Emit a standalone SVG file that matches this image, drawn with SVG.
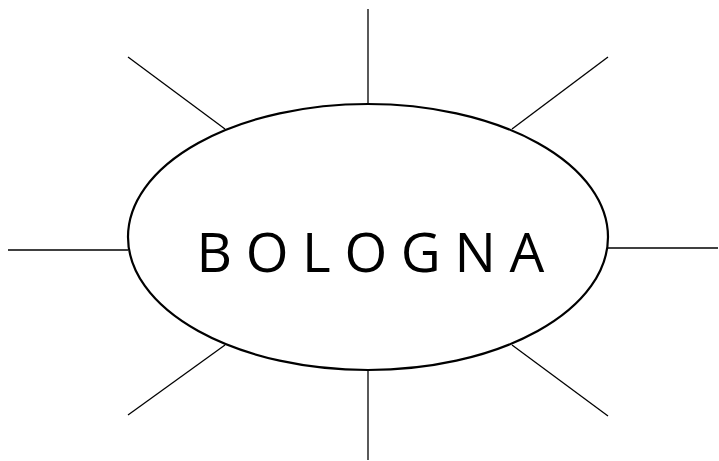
<svg xmlns="http://www.w3.org/2000/svg" width="719" height="461" viewBox="0 0 719 461">
<style>
.ray{stroke:#000;stroke-width:1.3;fill:none}
.lbl{font-family:"Open Sans","Liberation Sans",sans-serif;font-size:55px;fill:#000;letter-spacing:13.6px}
</style>
<rect width="719" height="461" fill="#fff"/>
<g id="connectors">
<line class="ray" x1="368" y1="9" x2="368" y2="104"/>
<line class="ray" x1="368" y1="370" x2="368" y2="460"/>
<line class="ray" x1="8" y1="250" x2="128" y2="250"/>
<line class="ray" x1="608" y1="248" x2="718" y2="248"/>
<line class="ray" x1="128" y1="57" x2="225" y2="129"/>
<line class="ray" x1="608" y1="57" x2="512" y2="129"/>
<line class="ray" x1="128" y1="415" x2="225" y2="345"/>
<line class="ray" x1="608" y1="416" x2="512" y2="345"/>
</g>
<g id="bologna">
<ellipse cx="368" cy="237" rx="240" ry="133" fill="#fff" stroke="#000" stroke-width="2.2"/>
<text class="lbl" x="196.6" y="272">BOLOGNA</text>
</g>
</svg>
